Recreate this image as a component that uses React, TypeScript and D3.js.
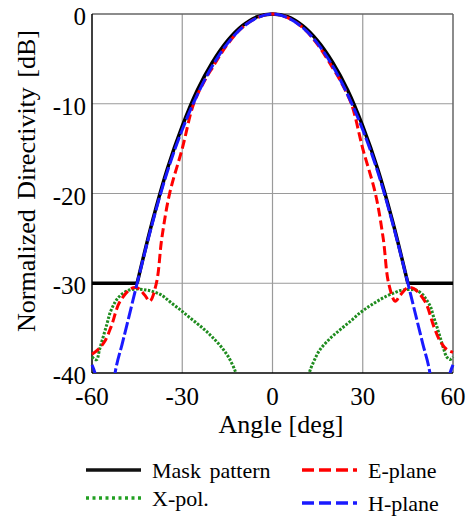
import React, { useEffect, useRef } from 'react';
import * as d3 from 'd3';

// values (angle in deg, level in dB)
const xTicks = [-60, -30, 0, 30, 60];
const yTicks = [0, -10, -20, -30, -40];

const maskAngles = [-45, -40, -35, -30, -25, -20, -15, -10, -5, 0, 5, 10, 15, 20, 25, 30, 35, 40, 45];
const maskValues = [-30, -23.2, -17.3, -12.5, -8.5, -5.4, -3.0, -1.3, -0.3, 0, -0.3, -1.3, -3.0, -5.4, -8.5, -12.5, -17.3, -23.2, -30];
const maskFlatLeft = [-60, -45];
const maskFlatRight = [45, 60];

const hAngles = [-60, -58.5, -56, -54, -52, -50, -48, -45, -40, -35, -30, -25, -20, -15, -10, -5, 0,
  5, 10, 15, 20, 25, 30, 35, 40, 45, 48, 50, 52, 54, 56, 58.5, 60];
const hValues = [-39.1, -40.6, -47, -44, -39.4, -36.8, -34.1, -30, -23.4, -17.6, -12.9, -9.0, -5.8, -3.3, -1.5, -0.4, 0,
  -0.4, -1.5, -3.3, -5.8, -9.0, -12.9, -17.6, -23.4, -30, -34.1, -36.8, -39.4, -44, -47, -40.6, -39.1];

const eAngles = [-60, -58, -55.8, -53.6, -50.8, -47, -45, -42.5, -40.8, -38.6, -36.8, -34.2, -30, -26.2, -22.5, -20, -15, -10, -5, 0,
  5, 10, 15, 20, 22.5, 26.2, 30, 34.2, 36.8, 38.6, 40.8, 42.5, 45, 47, 50.8, 53.6, 55.8, 58, 60];
const eValues = [-37.9, -37.4, -36.5, -34.8, -32.1, -30.6, -30.5, -31.3, -32, -30, -25, -20, -15, -10, -7.4, -6.0, -3.4, -1.5, -0.4, 0,
  -0.4, -1.5, -3.4, -6.0, -7.4, -10, -15, -20, -25, -30, -32, -31.3, -30.5, -30.6, -32.1, -34.8, -36.5, -37.4, -37.7];

const xpLeftAngles = [-60, -59, -58.4, -57.5, -56.3, -55, -54, -52.5, -51, -48, -45, -42, -40, -37, -33.6, -30.5, -28, -25, -22.5, -20, -17, -14.5, -12.5, -12];
const xpLeftValues = [-38.2, -38.5, -38.5, -37.4, -36, -34.5, -33.3, -32.2, -31.5, -30.8, -30.65, -30.75, -30.9, -31.3, -32.2, -33, -33.7, -34.5, -35.2, -36, -37.1, -38.3, -39.7, -40.3];
const xpRightAngles = [12, 12.5, 14, 15.8, 19, 22.4, 26, 29.1, 32, 34.6, 37.5, 40.2, 42.5, 44.6, 46.5, 48, 50, 51.3, 52.5, 53.5, 54.6, 55.7, 56.8, 57.9, 59, 60];
const xpRightValues = [-40.3, -39.7, -38.5, -37.4, -36.2, -35.2, -34.2, -33.3, -32.6, -32.05, -31.5, -31.1, -30.8, -30.7, -30.7, -30.8, -31.3, -31.9, -32.6, -33.7, -34.8, -36, -37.2, -38.2, -38.5, -38.2];

const legendItems = [
  { name: 'Mask pattern', color: '#111', dash: null, width: 3.5, col: 0, row: 0 },
  { name: 'X-pol.', color: '#22a022', dash: '3,3.5', width: 3.5, col: 0, row: 1 },
  { name: 'E-plane', color: '#ff0000', dash: '12,5', width: 3.5, col: 1, row: 0 },
  { name: 'H-plane', color: '#1a1aff', dash: '12,5', width: 3.5, col: 1, row: 1 },
];

const zip = (a: number[], v: number[]) => a.map((x, i) => [x, v[i]] as [number, number]);

const FONT = "'Liberation Serif', 'Times New Roman', Times, 'DejaVu Serif', serif";

const App = () => {
  const svgRef = useRef<SVGSVGElement | null>(null);

  useEffect(() => {
    const W = 470;
    const H = 517;
    const margin = { top: 14, left: 92, right: 17, bottom: 144 };
    const svg = d3.select(svgRef.current);
    svg.selectAll('*').remove();
    svg.attr('width', W).attr('height', H).style('font-family', FONT);

    const x = d3.scaleLinear().domain([-60, 60]).range([margin.left, W - margin.right]);
    const y = d3.scaleLinear().domain([-40, 0]).range([H - margin.bottom, margin.top]);

    svg.append('rect').attr('width', W).attr('height', H).attr('fill', '#fff');

    // grid
    const g = svg.append('g');
    g.selectAll('line.vg')
      .data(xTicks.slice(1, -1))
      .enter()
      .append('line')
      .attr('x1', d => x(d)).attr('x2', d => x(d))
      .attr('y1', y(0)).attr('y2', y(-40))
      .attr('stroke', '#9a9a9a').attr('stroke-width', 1.2);
    g.selectAll('line.hg')
      .data(yTicks.slice(1, -1))
      .enter()
      .append('line')
      .attr('x1', x(-60)).attr('x2', x(60))
      .attr('y1', d => y(d)).attr('y2', d => y(d))
      .attr('stroke', '#9a9a9a').attr('stroke-width', 1.2);

    // frame: grey top / right, black left / bottom
    g.append('line').attr('x1', x(-60)).attr('x2', x(60)).attr('y1', y(0)).attr('y2', y(0)).attr('stroke', '#666').attr('stroke-width', 1.5);
    g.append('line').attr('x1', x(60)).attr('x2', x(60)).attr('y1', y(0)).attr('y2', y(-40)).attr('stroke', '#666').attr('stroke-width', 1.5);
    g.append('line').attr('x1', x(-60)).attr('x2', x(-60)).attr('y1', y(0)).attr('y2', y(-40)).attr('stroke', '#000').attr('stroke-width', 1.5);
    g.append('line').attr('x1', x(-60)).attr('x2', x(60)).attr('y1', y(-40)).attr('y2', y(-40)).attr('stroke', '#000').attr('stroke-width', 1.5);

    // clip
    svg.append('clipPath').attr('id', 'plotclip')
      .append('rect')
      .attr('x', x(-60) - 2).attr('y', y(0) - 3)
      .attr('width', x(60) - x(-60) + 4).attr('height', y(-40) - y(0) + 3);

    const plot = svg.append('g').attr('clip-path', 'url(#plotclip)');

    const smooth = d3.line<[number, number]>()
      .x(d => x(d[0])).y(d => y(d[1]))
      .curve(d3.curveCatmullRom.alpha(0.5));
    const straight = d3.line<[number, number]>()
      .x(d => x(d[0])).y(d => y(d[1]));

    // X-pol
    [zip(xpLeftAngles, xpLeftValues), zip(xpRightAngles, xpRightValues)].forEach(pts => {
      plot.append('path').attr('d', smooth(pts))
        .attr('fill', 'none').attr('stroke', '#1f8c1f')
        .attr('stroke-width', 3).attr('stroke-dasharray', '2.5,1.5');
    });

    // mask
    plot.append('path').attr('d', straight([[maskFlatLeft[0], -30], [maskFlatLeft[1], -30]]))
      .attr('fill', 'none').attr('stroke', '#000').attr('stroke-width', 3.5);
    plot.append('path').attr('d', straight([[maskFlatRight[0], -30], [maskFlatRight[1], -30]]))
      .attr('fill', 'none').attr('stroke', '#000').attr('stroke-width', 3.5);
    plot.append('path').attr('d', smooth(zip(maskAngles, maskValues)))
      .attr('fill', 'none').attr('stroke', '#000').attr('stroke-width', 3.5);

    // E-plane
    plot.append('path').attr('d', smooth(zip(eAngles, eValues)))
      .attr('fill', 'none').attr('stroke', '#ff0000')
      .attr('stroke-width', 3).attr('stroke-dasharray', '9,4');

    // H-plane
    plot.append('path').attr('d', smooth(zip(hAngles, hValues)))
      .attr('fill', 'none').attr('stroke', '#1a1aff')
      .attr('stroke-width', 3).attr('stroke-dasharray', '13,3');

    const label = (sel: any, size: number) =>
      sel.style('font-family', FONT).style('font-size', `${size}px`).attr('fill', '#000');

    // tick labels
    label(svg.selectAll('text.xt')
      .data(xTicks)
      .enter()
      .append('text')
      .attr('x', (d: number) => x(d)).attr('y', y(-40) + 32)
      .attr('text-anchor', 'middle'), 25)
      .text((d: number) => String(d));
    label(svg.selectAll('text.yt')
      .data(yTicks)
      .enter()
      .append('text')
      .attr('x', x(-60) - 6).attr('y', (d: number) => y(d) + 11)
      .attr('text-anchor', 'end'), 25)
      .text((d: number) => String(d));

    // axis titles
    label(svg.append('text')
      .attr('x', 281).attr('y', 433)
      .attr('text-anchor', 'middle'), 26)
      .text('Angle [deg]');
    label(svg.append('text')
      .attr('transform', 'translate(35,181) rotate(-90)')
      .attr('text-anchor', 'middle')
      .style('word-spacing', '3px'), 26)
      .text('Normalized Directivity [dB]');

    // legend
    const colX = [86, 302];
    const rowY = [470, 501];
    legendItems.forEach(item => {
      const lx = colX[item.col];
      const ly = rowY[item.row] + (item.col === 0 && item.row === 1 ? -3 : 0) + (item.col === 1 && item.row === 1 ? 2 : 0);
      svg.append('line')
        .attr('x1', lx).attr('x2', lx + 55)
        .attr('y1', ly).attr('y2', ly)
        .attr('stroke', item.color).attr('stroke-width', item.width)
        .attr('stroke-dasharray', item.dash);
      label(svg.append('text')
        .attr('x', lx + 66).attr('y', ly + 8)
        .style('word-spacing', '3px'), 22)
        .text(item.name);
    });
  }, []);

  return <svg ref={svgRef} style={{ position: 'absolute', left: 0, top: 0 }}></svg>;
};

export default App;
